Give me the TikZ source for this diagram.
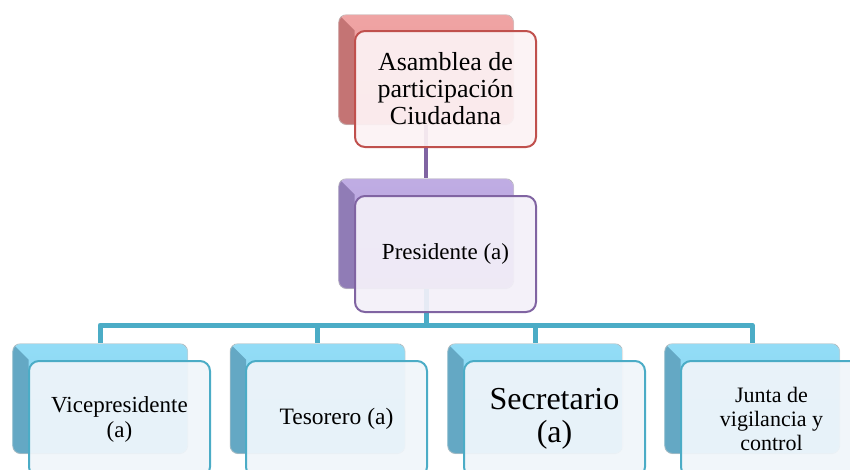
\documentclass[tikz,border=0pt]{standalone}
\usepackage{fontspec}
\setmainfont{Liberation Serif}
\usetikzlibrary{calc}
\definecolor{redL}{RGB}{236,148,148}
\definecolor{redD}{RGB}{196,116,116}
\definecolor{redB}{RGB}{192,80,77}
\definecolor{redF}{RGB}{252,242,244}
\definecolor{purL}{RGB}{180,158,222}
\definecolor{purD}{RGB}{144,124,182}
\definecolor{purB}{RGB}{128,100,162}
\definecolor{purF}{RGB}{243,240,248}
\definecolor{bluL}{RGB}{128,214,244}
\definecolor{bluD}{RGB}{100,168,196}
\definecolor{bluB}{RGB}{75,172,198}
\definecolor{bluF}{RGB}{240,245,250}
\tikzset{
  backbox/.style={rectangle, rounded corners=8pt, minimum width=175pt, minimum height=110pt,
    inner sep=0pt, anchor=north west, draw=black!20, line width=1.2pt, draw opacity=0.5,
    path picture={
      \fill[sharp corners, top color=#1L!85!white, bottom color=#1L]
        (path picture bounding box.north west) rectangle (path picture bounding box.south east);
      \fill[sharp corners, #1D] (path picture bounding box.north west) -- ++(16pt,-16pt)
        -- ([xshift=16pt]path picture bounding box.south west)
        -- (path picture bounding box.south west) -- cycle;
    }},
  frontbox/.style={rectangle, rounded corners=10pt, minimum width=181pt, minimum height=116pt,
    inner sep=2pt, anchor=north west, draw=#1B, line width=2pt, fill=#1F, fill opacity=0.92,
    text opacity=1, align=center, text=black},
  purline/.style={draw=purB, line width=4pt},
  bluline/.style={draw=bluB, line width=5pt, line join=round},
}
\begin{document}
\begin{tikzpicture}[x=1pt,y=-1pt]
\useasboundingbox (0,0) rectangle (850,469);
% back boxes
\node[backbox=red] (b1) at (338,14) {};
\node[backbox=pur] (b2) at (338,178) {};
\node[backbox=blu] (b3) at (12,343) {};
\node[backbox=blu] (b4) at (229.5,343) {};
\node[backbox=blu] (b5) at (447,343) {};
\node[backbox=blu] (b6) at (664,343) {};
% connectors
\coordinate (bus) at (0,325);
\draw[purline] (b1.south) -- (b2.north);
\draw[bluline] (b2.south) -- (b2.south |- bus);
\draw[bluline] (b3.north) |- (b6.north |- bus) -- (b6.north);
\draw[bluline] (b4.north) -- (b4.north |- bus);
\draw[bluline] (b5.north) -- (b5.north |- bus);
% front boxes
\node[frontbox=red, font=\fontsize{26}{27}\selectfont] (f1) at (354,30) {Asamblea de\\participación\\Ciudadana};
\node[frontbox=pur, font=\fontsize{23}{25}\selectfont] (f2) at (354,195) {Presidente (a)};
\node[frontbox=blu, font=\fontsize{23}{25}\selectfont] (f3) at (28,360) {Vicepresidente\\(a)};
\node[frontbox=blu, font=\fontsize{23.5}{25}\selectfont] (f4) at (245,360) {Tesorero (a)};
\node[frontbox=blu, font=\fontsize{32}{33}\selectfont] (f5) at (463,360) {Secretario\\(a)};
\node[frontbox=blu, font=\fontsize{22}{24}\selectfont] (f6) at (680,360) {Junta de\\vigilancia y\\control};
\end{tikzpicture}
\end{document}
